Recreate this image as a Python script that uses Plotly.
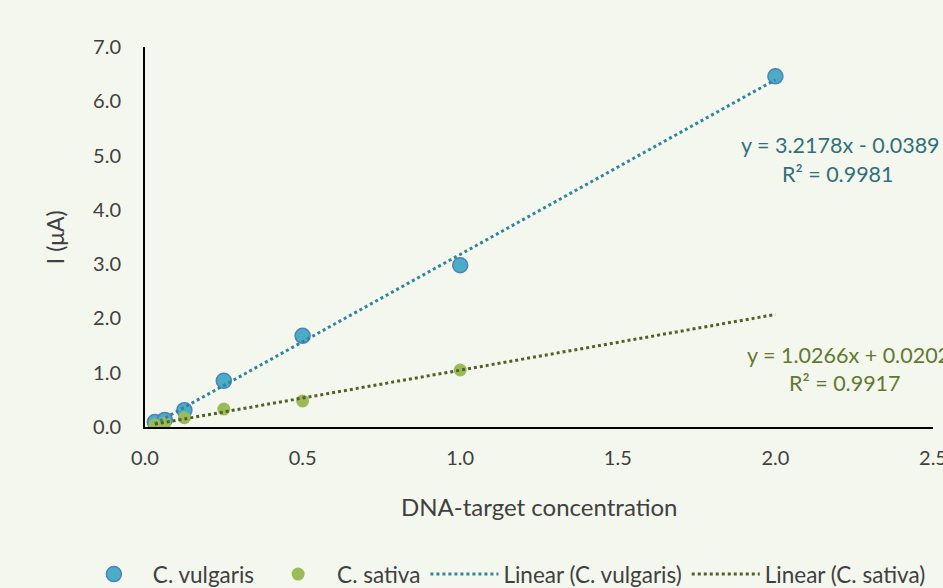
import plotly.graph_objects as go
import numpy as np

# Data
conc = [0.03125, 0.0625, 0.125, 0.25, 0.5, 1.0, 2.0]
vulgaris = [0.09, 0.13, 0.31, 0.85, 1.68, 2.98, 6.46]
conc_sativa = [0.03125, 0.0625, 0.125, 0.25, 0.5, 1.0]
sativa = [0.04, 0.07, 0.17, 0.33, 0.48, 1.05]

# Trendline coefficients (as shown on chart)
vul_slope, vul_intercept = 3.2178, -0.0389
sat_slope, sat_intercept = 1.0266, 0.0202
trend_x = [0.03125, 2.0]

x_ticks = [0.0, 0.5, 1.0, 1.5, 2.0, 2.5]
y_ticks = [0.0, 1.0, 2.0, 3.0, 4.0, 5.0, 6.0, 7.0]

BG = "#f4f7ee"
FONT = "Lato, 'Open Sans', sans-serif"
TXT = "#404040"

fig = go.Figure()

fig.add_trace(go.Scatter(
    x=conc, y=vulgaris, mode="markers", name="C. vulgaris",
    marker=dict(size=15, color="#4bacc6", line=dict(color="#4f81bd", width=1.5)),
))
fig.add_trace(go.Scatter(
    x=conc_sativa, y=sativa, mode="markers", name="C. sativa",
    marker=dict(size=13, color="#9bbb59", line=dict(width=0)),
))
tx = np.array(trend_x)
fig.add_trace(go.Scatter(
    x=tx, y=vul_slope * tx + vul_intercept, mode="lines", name="Linear (C. vulgaris)",
    line=dict(color="#31859c", width=3, dash="dot"),
))
fig.add_trace(go.Scatter(
    x=tx, y=sat_slope * tx + sat_intercept, mode="lines", name="Linear (C. sativa)",
    line=dict(color="#4f6228", width=3, dash="dot"),
))

annots = [
    dict(x=2.205, y=5.19, text="y = 3.2178x - 0.0389", color="#31707a", xanchor="center"),
    dict(x=2.2, y=4.66, text="R² = 0.9981", color="#31707a", xanchor="center"),
    dict(x=1.904, y=1.33, text="y = 1.0266x + 0.0202", color="#5f7a30", xanchor="left"),
    dict(x=2.22, y=0.81, text="R² = 0.9917", color="#5f7a30", xanchor="center"),
]
for a in annots:
    fig.add_annotation(x=a["x"], y=a["y"], xref="x", yref="y", text=a["text"],
                       showarrow=False, xanchor=a["xanchor"], yanchor="middle",
                       font=dict(family=FONT, size=21.5, color=a["color"]))

# Axis titles
fig.add_annotation(x=0.5, y=-0.21, xref="paper", yref="paper", text="DNA-target concentration",
                   showarrow=False, xanchor="center", yanchor="middle",
                   font=dict(family=FONT, size=24, color=TXT))
fig.add_annotation(x=-0.114, y=0.5, xref="paper", yref="paper", text="I (μA)", textangle=-90,
                   showarrow=False, xanchor="center", yanchor="middle",
                   font=dict(family=FONT, size=23, color=TXT))

fig.update_layout(
    width=943, height=588,
    paper_bgcolor=BG, plot_bgcolor=BG,
    margin=dict(l=145, r=10, t=47, b=161, autoexpand=False),
    font=dict(family=FONT, size=20, color=TXT),
    showlegend=True,
    legend=dict(orientation="h", x=-0.089, xanchor="left", y=-0.388, yanchor="middle",
                font=dict(family=FONT, size=22.5, color=TXT), bgcolor="rgba(0,0,0,0)",
                itemwidth=68, tracegroupgap=0),
    xaxis=dict(range=[0, 2.5], tickvals=x_ticks, ticktext=[f"{v:.1f}" for v in x_ticks],
               showgrid=False, zeroline=False, showline=True, linecolor="#000000", linewidth=2,
               ticks="", ticklabelstandoff=12, ticklabeloverflow="allow"),
    yaxis=dict(range=[0, 7.0], tickvals=y_ticks, ticktext=[f"{v:.1f}" for v in y_ticks],
               showgrid=False, zeroline=False, showline=True, linecolor="#000000", linewidth=2,
               ticks="", ticklabelstandoff=18),
)

fig.write_html("out.html", post_script="document.body.style.margin='0';",
               config={"displayModeBar": False})
